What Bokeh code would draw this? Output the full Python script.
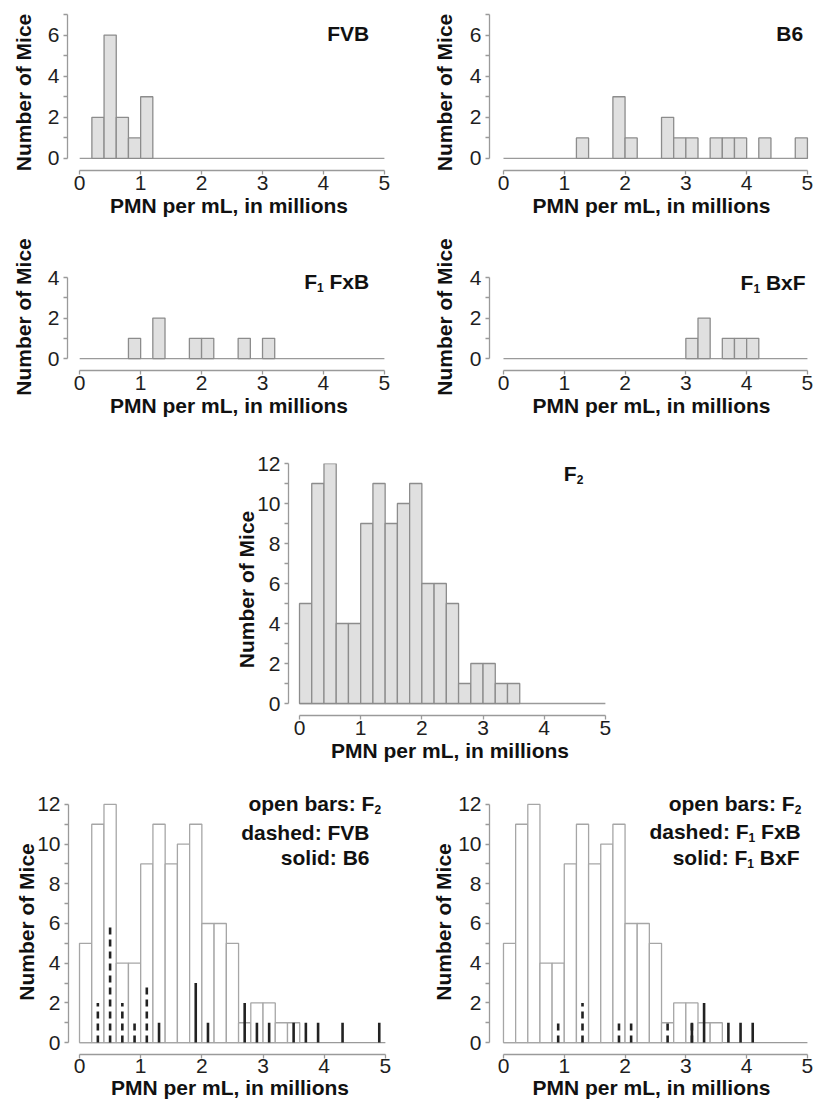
from bokeh.plotting import figure
from bokeh.layouts import column, row, Spacer
from bokeh.models import Range1d, FixedTicker
from bokeh.core.properties import value
from bokeh.embed import file_html
from bokeh.resources import INLINE

# ---------------- data ----------------
BIN_LEFT = [0.0, 0.2, 0.4, 0.6, 0.8, 1.0, 1.2, 1.4, 1.6, 1.8, 2.0, 2.2, 2.4,
            2.6, 2.8, 3.0, 3.2, 3.4, 3.6, 3.8, 4.0, 4.2, 4.4, 4.6, 4.8]
BIN_WIDTH = 0.2
FVB    = [0, 2, 6, 2, 1, 3, 0, 0, 0, 0, 0, 0, 0, 0, 0, 0, 0, 0, 0, 0, 0, 0, 0, 0, 0]
B6     = [0, 0, 0, 0, 0, 0, 1, 0, 0, 3, 1, 0, 0, 2, 1, 1, 0, 1, 1, 1, 0, 1, 0, 0, 1]
F1_FXB = [0, 0, 0, 0, 1, 0, 2, 0, 0, 1, 1, 0, 0, 1, 0, 1, 0, 0, 0, 0, 0, 0, 0, 0, 0]
F1_BXF = [0, 0, 0, 0, 0, 0, 0, 0, 0, 0, 0, 0, 0, 0, 0, 1, 2, 0, 1, 1, 1, 0, 0, 0, 0]
F2     = [5, 11, 12, 4, 4, 9, 11, 9, 10, 11, 6, 6, 5, 1, 2, 2, 1, 1, 0, 0, 0, 0, 0, 0, 0]

X_TICKS = [0, 1, 2, 3, 4, 5]
Y_TICKS_7 = [0, 2, 4, 6]
Y_MINOR_7 = [1, 3, 5, 7]
Y_TICKS_4 = [0, 2, 4]
Y_MINOR_4 = [1, 3]
Y_TICKS_12 = [0, 2, 4, 6, 8, 10, 12]
Y_MINOR_12 = [1, 3, 5, 7, 9, 11]
X_LABEL = "PMN per mL, in millions"
Y_LABEL = "Number of Mice"

# ---------------- styles ----------------
FONT = "Liberation Sans"
AXIS_COL = "#9a9a9a"
TEXT_COL = "#111111"
TICK_COL = "#1e1e1e"
BAR_FILL = "#e0e0e0"
BAR_LINE = "#8c8c8c"
OPEN_LINE = "#a6a6a6"
STICK_COL = "#222222"

# Arial-bold advance widths (per 1000 em) for composing subscript labels
W = {' ': 278, ':': 333, 'F': 611, 'V': 667, 'B': 722, 'x': 556, '1': 556,
     '2': 556, '6': 556, 'o': 611, 'p': 611, 'e': 556, 'n': 611, 'b': 611,
     'a': 556, 'r': 389, 's': 556, 'd': 611, 'h': 611, 'l': 278, 'i': 278}


def tw(s, size):
    return sum(W.get(c, 556) for c in s) / 1000.0 * size


def panel(width, height, bl, br, bt, bb, xstart, ymin, ymax, yticks, yminor,
          ylab_sd, tick_sd=1, xlab_sd=1):
    p = figure(width=width, height=height,
               x_range=Range1d(xstart, 5.1), y_range=Range1d(ymin, ymax),
               output_backend="svg", toolbar_location=None,
               min_border_left=bl, min_border_right=br,
               min_border_top=bt, min_border_bottom=bb,
               outline_line_color=None, background_fill_color="white",
               border_fill_color="white")
    p.xgrid.visible = False
    p.ygrid.visible = False
    xa = p.xaxis[0]
    ya = p.yaxis[0]
    xa.ticker = FixedTicker(ticks=X_TICKS, minor_ticks=[])
    xa.bounds = (X_TICKS[0], X_TICKS[-1])
    ya.ticker = FixedTicker(ticks=yticks, minor_ticks=yminor)
    ya.bounds = (0, max(yticks + yminor))
    for ax in (xa, ya):
        ax.axis_line_color = AXIS_COL
        ax.axis_line_width = 1.3
        ax.major_tick_line_color = AXIS_COL
        ax.minor_tick_line_color = AXIS_COL
        ax.major_tick_line_width = 1.3
        ax.minor_tick_line_width = 1.3
        ax.major_tick_out = 4
        ax.major_tick_in = 0
        ax.minor_tick_out = 4
        ax.minor_tick_in = 0
        ax.major_label_text_font = FONT
        ax.major_label_text_font_size = "21px"
        ax.major_label_text_color = TICK_COL
        ax.axis_label_text_font = FONT
        ax.axis_label_text_font_size = "21px"
        ax.axis_label_text_font_style = "bold"
        ax.axis_label_text_color = TEXT_COL
    xa.axis_label = X_LABEL
    ya.axis_label = Y_LABEL
    xa.major_label_standoff = tick_sd
    xa.axis_label_standoff = xlab_sd
    ya.major_label_standoff = 4
    ya.axis_label_standoff = ylab_sd
    # zero line of the histogram
    p.line(x=[X_TICKS[0], X_TICKS[-1]], y=[0, 0], line_color=AXIS_COL, line_width=1.3)
    return p


def bars(p, counts, fill, line):
    idx = [i for i, c in enumerate(counts) if c > 0]
    p.quad(left=[BIN_LEFT[i] for i in idx],
           right=[BIN_LEFT[i] + BIN_WIDTH for i in idx],
           bottom=0, top=[counts[i] for i in idx],
           fill_color=fill, line_color=line, line_width=1.3)


def sticks(p, counts, dash):
    idx = [i for i, c in enumerate(counts) if c > 0]
    xs = [BIN_LEFT[i] + BIN_WIDTH / 2 for i in idx]
    p.segment(x0=xs, y0=0, x1=xs, y1=[counts[i] for i in idx],
              line_color=STICK_COL, line_width=2.6, line_dash=dash)


def rtext(p, x, y, segs):
    """Right aligned text made of (text, size, down_shift, gap_before) pieces."""
    off = 0.0
    for txt, size, dy, gap in reversed(segs):
        p.text(x=[x], y=[y], text=[txt], x_offset=-off, y_offset=dy,
               text_align="right", text_baseline="alphabetic",
               text_font=value(FONT), text_font_style="bold",
               text_font_size=f"{size}px", text_color=TEXT_COL)
        off += tw(txt, size) + gap


BIG = 21
SUB = 12
SH = 6

# ---------------- row 1 ----------------
p1 = panel(407, 228, 67, 17, 14, 58, -0.2, -0.585, 7.0, Y_TICKS_7, Y_MINOR_7, 10)
bars(p1, FVB, BAR_FILL, BAR_LINE)
rtext(p1, 4.75, 6.1, [("FVB", BIG, 0, 0)])

p2 = panel(408, 228, 82, 2, 14, 58, -0.23, -0.585, 7.0, Y_TICKS_7, Y_MINOR_7, 11)
bars(p2, B6, BAR_FILL, BAR_LINE)
rtext(p2, 4.93, 6.1, [("B6", BIG, 0, 0)])

# ---------------- row 2 ----------------
p3 = panel(407, 202, 67, 17, 35, 60, -0.2, -0.59, 4.7, Y_TICKS_4, Y_MINOR_4, 10)
bars(p3, F1_FXB, BAR_FILL, BAR_LINE)
rtext(p3, 4.75, 3.8, [("F", BIG, 0, 0), ("1", SUB, SH, 0), ("FxB", BIG, 0, tw(" ", BIG))])

p4 = panel(408, 202, 82, 2, 35, 60, -0.23, -0.59, 4.7, Y_TICKS_4, Y_MINOR_4, 11)
bars(p4, F1_BXF, BAR_FILL, BAR_LINE)
rtext(p4, 4.97, 3.75, [("F", BIG, 0, 0), ("1", SUB, SH, 0), ("BxF", BIG, 0, tw(" ", BIG))])

# ---------------- row 3 ----------------
p5 = panel(400, 345, 67, 10, 33, 60, -0.18, -0.6, 12.0, Y_TICKS_12, Y_MINOR_12, -4)
bars(p5, F2, BAR_FILL, BAR_LINE)
rtext(p5, 4.64, 11.5, [("F", BIG, 0, 0), ("2", SUB, SH, 0)])

# ---------------- row 4 ----------------
p6 = panel(407, 329, 68, 16, 14, 50, -0.18, -0.6, 12.75, Y_TICKS_12, Y_MINOR_12, -4,
           tick_sd=0, xlab_sd=0)
bars(p6, F2, "white", OPEN_LINE)
sticks(p6, FVB, "7 5")
sticks(p6, B6, "solid")
rtext(p6, 4.93, 12.05, [("open bars: F", BIG, 0, 0), ("2", SUB, SH, 0)])
rtext(p6, 4.74, 10.6, [("dashed: FVB", BIG, 0, 0)])
rtext(p6, 4.74, 9.33, [("solid: B6", BIG, 0, 0)])

p7 = panel(408, 329, 82, 2, 14, 50, -0.23, -0.6, 12.75, Y_TICKS_12, Y_MINOR_12, 0,
           tick_sd=0, xlab_sd=0)
bars(p7, F2, "white", OPEN_LINE)
sticks(p7, F1_FXB, "7 5")
sticks(p7, F1_BXF, "solid")
rtext(p7, 4.9, 12.05, [("open bars: F", BIG, 0, 0), ("2", SUB, SH, 0)])
rtext(p7, 4.89, 10.62, [("dashed: F", BIG, 0, 0), ("1", SUB, SH, 0),
                        ("FxB", BIG, 0, tw(" ", BIG))])
rtext(p7, 4.87, 9.33, [("solid: F", BIG, 0, 0), ("1", SUB, SH, 0),
                       ("BxF", BIG, 0, tw(" ", BIG))])

layout = column(
    row(p1, p2),
    row(p3, p4),
    row(Spacer(width=221, height=345), p5),
    row(p6, p7),
)

open("out.html", "w").write(file_html(layout, INLINE))
